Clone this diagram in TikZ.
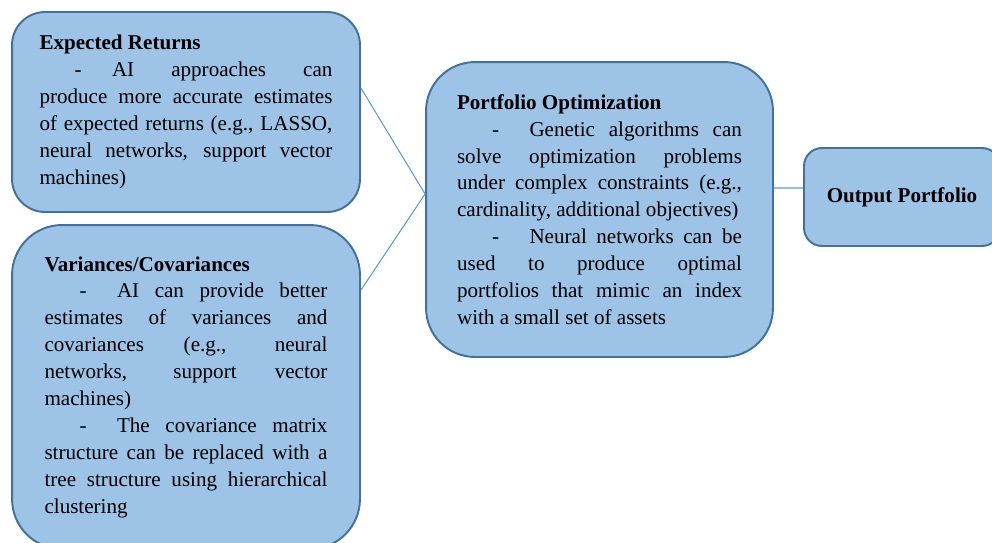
\documentclass[tikz,border=0pt]{standalone}
\usepackage{fontspec}
\setmainfont{Liberation Serif}
\usepackage{xcolor}
\usetikzlibrary{positioning}
\definecolor{boxfill}{HTML}{9DC3E6}
\definecolor{boxline}{HTML}{41719C}
\definecolor{linkline}{HTML}{5B9BD5}
\newcommand{\dashitem}{\hspace*{0.7cm}\makebox[0.75cm][l]{-}}
\tikzset{
	block/.style={
		draw=boxline,
		line width=1.1pt,
		fill=boxfill,
		align=justify,
		inner sep=0pt,
		font=\fontsize{12}{15.3}\selectfont},
	every edge/.style={
		draw=linkline,
		line width=0.6pt}
}

\begin{document}
\begin{tikzpicture}[x=0.02cm, y=-0.02cm]
	\clip (0,0) rectangle (992,542);
	\useasboundingbox (0,0) rectangle (992,542);
	
	\node[block, rounded corners=0.66cm, text width=5.86cm,
		minimum width=6.96cm, minimum height=4cm] (er) at (186,112) {%
		\textbf{Expected Returns}\\
		\dashitem AI approaches can\linebreak
		produce more accurate estimates\linebreak
		of expected returns (e.g., LASSO,\linebreak
		neural networks, support vector\linebreak
		machines)};
	\node[block, rounded corners=1cm, text width=5.66cm,
		minimum width=6.96cm, minimum height=6.48cm] (vc) at (186,387) {%
		\textbf{Variances/Covariances}\\
		\dashitem AI can provide better\linebreak
		estimates of variances and\linebreak
		covariances (e.g., neural\linebreak
		networks, support vector\linebreak
		machines)\\
		\dashitem The covariance matrix\linebreak
		structure can be replaced with a\linebreak
		tree structure using hierarchical\linebreak
		clustering};
	\node[block, rounded corners=0.98cm, text width=5.7cm,
		minimum width=6.94cm, minimum height=5.9cm] (po) at (599.5,209.5) {%
		\textbf{Portfolio Optimization}\\
		\dashitem Genetic algorithms can\linebreak
		solve optimization problems\linebreak
		under complex constraints (e.g.,\linebreak
		cardinality, additional objectives)\\
		\dashitem Neural networks can be\linebreak
		used to produce optimal\linebreak
		portfolios that mimic an index\linebreak
		with a small set of assets};
	\node[block, rounded corners=0.36cm, align=center,
		minimum width=3.92cm, minimum height=1.96cm] (op) at (902,197)
		{\textbf{Output Portfolio}};
	
	\draw ([yshift=0.48cm]er.east) edge ([yshift=0.31cm]po.west);
	\draw ([yshift=1.94cm]vc.east) edge ([yshift=0.31cm]po.west);
	\draw ([yshift=0.43cm]po.east) edge ([yshift=0.18cm]op.west);
	
\end{tikzpicture}
\end{document}
